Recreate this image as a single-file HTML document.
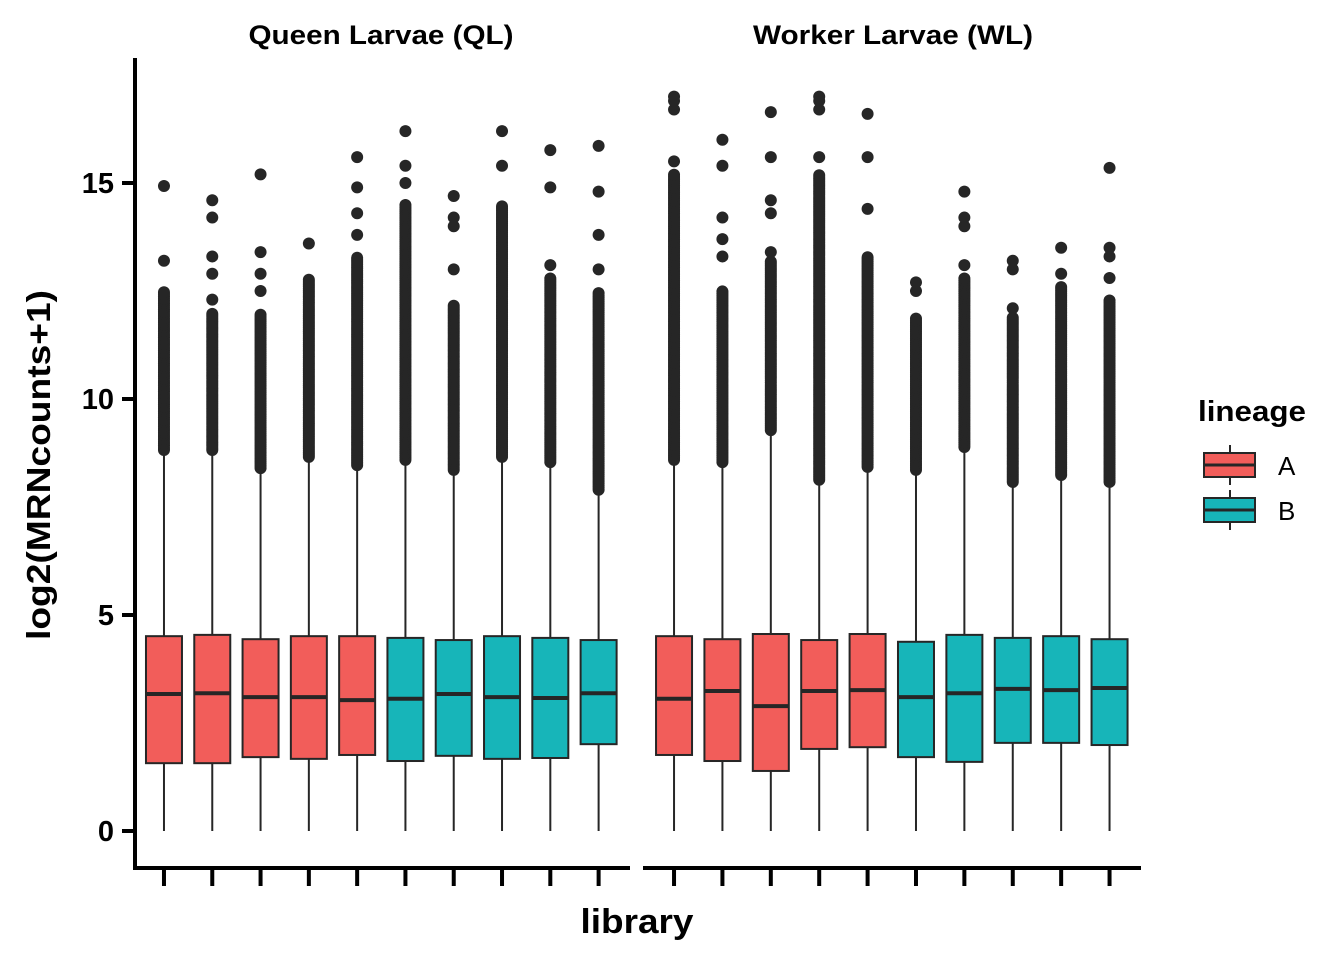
<!DOCTYPE html>
<html><head><meta charset="utf-8">
<style>
html,body{margin:0;padding:0;background:#fff;width:1344px;height:960px;overflow:hidden}
svg text{font-family:"Liberation Sans",Arial,sans-serif}
</style></head>
<body>
<svg id="chart" width="1344" height="960" viewBox="0 0 1344 960" xmlns="http://www.w3.org/2000/svg">
<g id="marks"></g>
<g id="axes"></g>
<text x="381" y="44" text-anchor="middle" font-size="27" font-weight="bold" textLength="265" lengthAdjust="spacingAndGlyphs">Queen Larvae (QL)</text>
<text x="893" y="44" text-anchor="middle" font-size="27" font-weight="bold" textLength="280" lengthAdjust="spacingAndGlyphs">Worker Larvae (WL)</text>
<text x="637" y="933" text-anchor="middle" font-size="34" font-weight="bold" textLength="113" lengthAdjust="spacingAndGlyphs">library</text>
<text transform="translate(50,465) rotate(-90)" text-anchor="middle" font-size="33" font-weight="bold" textLength="350" lengthAdjust="spacingAndGlyphs">log2(MRNcounts+1)</text>
<g>
<text x="1198" y="421" font-size="29" font-weight="bold" textLength="108" lengthAdjust="spacingAndGlyphs">lineage</text>
<g>
<line x1="1230" y1="445" x2="1230" y2="485" stroke="#262626" stroke-width="2"/>
<rect x="1204" y="453" width="51" height="24" fill="#F25D5A" stroke="#262626" stroke-width="2"/>
<line x1="1204" y1="465" x2="1255" y2="465" stroke="#262626" stroke-width="3"/>
<text x="1278" y="475" font-size="26">A</text></g>
<g>
<line x1="1230" y1="490" x2="1230" y2="530" stroke="#262626" stroke-width="2"/>
<rect x="1204" y="498" width="51" height="24" fill="#17B5B9" stroke="#262626" stroke-width="2"/>
<line x1="1204" y1="510" x2="1255" y2="510" stroke="#262626" stroke-width="3"/>
<text x="1278" y="520" font-size="26">B</text></g>
</g>
</svg>
<script>
const lineage = ["A","A","A","A","A","B","B","B","B","B","A","A","A","A","A","B","B","B","B","B"];
const q1 = [1.57,1.57,1.71,1.67,1.76,1.62,1.74,1.67,1.69,2.01, 1.76,1.62,1.39,1.90,1.94,1.71,1.60,2.04,2.04,1.99];
const med = [3.17,3.19,3.10,3.10,3.03,3.06,3.17,3.10,3.08,3.19, 3.06,3.24,2.89,3.24,3.26,3.10,3.19,3.29,3.26,3.31];
const q3 = [4.51,4.54,4.44,4.51,4.51,4.47,4.42,4.51,4.47,4.42, 4.51,4.44,4.56,4.42,4.56,4.38,4.54,4.47,4.51,4.44];
const whiskerLow = [0,0,0,0,0,0,0,0,0,0, 0,0,0,0,0,0,0,0,0,0];
const whiskerHigh = [8.82,8.82,8.4,8.66,8.47,8.59,8.36,8.66,8.54,7.9, 8.59,8.54,9.28,8.13,8.43,8.36,8.89,8.08,8.24,8.08];
const denseTop = [12.5,12.0,12.0,12.8,13.3,14.5,12.2,14.5,12.8,12.5, 15.2,12.5,13.2,15.2,13.3,11.9,12.8,11.9,12.6,12.3];
const sparse = [
 [13.2,14.93],[12.3,12.9,13.3,14.2,14.6],[12.5,12.9,13.4,15.2],[13.6],[13.8,14.3,14.9,15.6],
 [15.0,15.4,16.2],[13.0,14.0,14.2,14.7],[15.4,16.2],[13.1,14.9,15.76],[13.0,13.8,14.8,15.86],
 [15.5,16.7,16.9,17.0],[13.3,13.7,14.2,15.4,16.0],[13.4,14.3,14.6,15.6,16.64],[15.6,16.7,16.9,17.0],[14.4,15.6,16.6],
 [12.5,12.7],[13.1,14.0,14.2,14.8],[12.1,13.0,13.2],[12.9,13.5],[12.8,13.3,13.5,15.35]
];
const yTicks = [0,5,10,15];

const NS="http://www.w3.org/2000/svg";
const y = v => 831 - v*43.2;
const panels = [{x0:135,x1:630},{x0:645,x1:1141}];
const xPos = i => { const p = panels[Math.floor(i/10)]; const k=i%10; return p.x0 + (p.x1-p.x0)*(k+0.6)/10.25; };
const fill = {A:"#F25D5A",B:"#17B5B9"};
const marks=document.getElementById('marks'), axes=document.getElementById('axes');
function mk(tag,attrs,parent){const e=document.createElementNS(NS,tag);for(const k in attrs)e.setAttribute(k,attrs[k]);parent.appendChild(e);return e;}

for(let i=0;i<q1.length;i++){
  const cx=xPos(i), w=36;
  const g=mk('g',{},marks);
  
  
  mk('line',{x1:cx,x2:cx,y1:y(whiskerLow[i]),y2:y(whiskerHigh[i]),stroke:'#262626','stroke-width':2},g);
  for(let v=whiskerHigh[i]; v<=denseTop[i]; v+=0.05){
    mk('circle',{cx:cx,cy:y(v),r:6,fill:'#262626'},g);
  }
  sparse[i].forEach(v=>mk('circle',{cx:cx,cy:y(v),r:6,fill:'#262626'},g));
  mk('rect',{x:cx-w/2,y:y(q3[i]),width:w,height:y(q1[i])-y(q3[i]),fill:fill[lineage[i]],stroke:'#262626','stroke-width':2},g);
  mk('line',{x1:cx-w/2,x2:cx+w/2,y1:y(med[i]),y2:y(med[i]),stroke:'#262626','stroke-width':4},g);
  const t=mk('line',{x1:cx,x2:cx,y1:870,y2:886,stroke:'#000','stroke-width':4},axes);
  
  
}
const ya=mk('line',{x1:135,x2:135,y1:58,y2:870,stroke:'#000','stroke-width':4},axes);


panels.forEach(p=>{
  const l=mk('line',{x1:p.x0-2,x2:p.x1,y1:868,y2:868,stroke:'#000','stroke-width':4},axes);
  
  
});
yTicks.forEach(v=>{
  const t=mk('line',{x1:122,x2:135,y1:y(v),y2:y(v),stroke:'#000','stroke-width':4},axes);
  
  
  const tx=mk('text',{x:114,y:y(v)+10,'text-anchor':'end','font-size':29,'font-weight':'bold'},axes);
  tx.textContent=v;
  
  
});
</script>
</body></html>
